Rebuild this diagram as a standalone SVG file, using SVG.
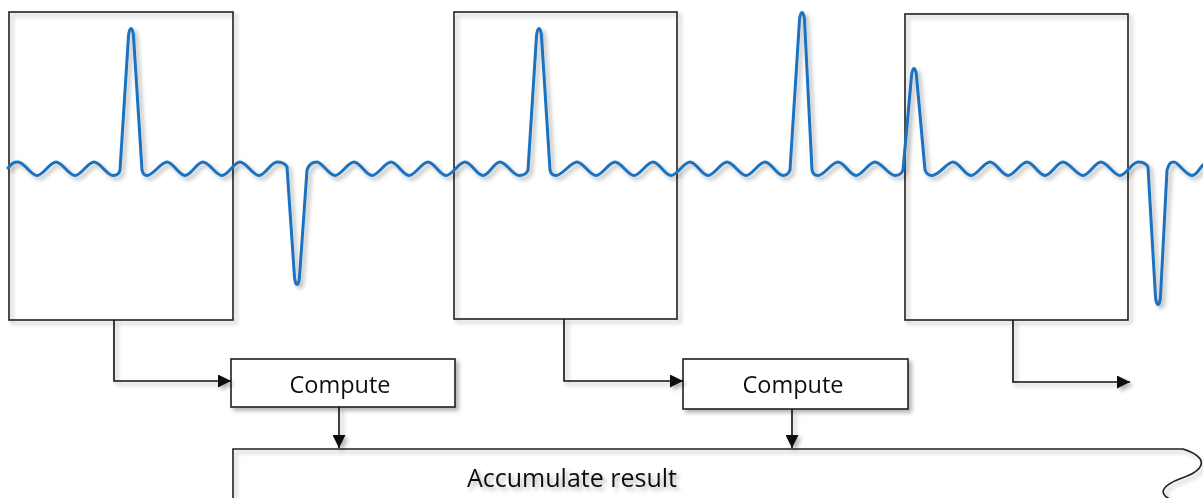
<svg xmlns="http://www.w3.org/2000/svg" width="1203" height="498" viewBox="0 0 1203 498">
<style>
.frame{fill:none;stroke:#1f1f1f;stroke-width:1.6}
.box{fill:#fff;stroke:#1f1f1f;stroke-width:1.6}
.conn{fill:none;stroke:#111;stroke-width:1.6}
.sig{fill:none;stroke:#1a72bf;stroke-width:3;stroke-linejoin:round;stroke-linecap:round}
.lbl{font-family:"Open Sans","Liberation Sans",sans-serif;fill:#111;font-weight:500}
</style>
<defs>
<filter id="sh" filterUnits="userSpaceOnUse" x="0" y="0" width="1203" height="498">
<feDropShadow dx="3" dy="3" stdDeviation="2" flood-color="#000" flood-opacity="0.3"/>
</filter>
<marker id="arr" viewBox="0 0 10 10" refX="10" refY="5" markerUnits="userSpaceOnUse" markerWidth="14" markerHeight="13" orient="auto">
<path d="M0,0 L10,5 L0,10 z" fill="#111"/>
</marker>
</defs>
<rect width="1203" height="498" fill="#fff"/>
<g id="windows" filter="url(#sh)">
<rect id="window1" class="frame" x="9" y="12" width="224" height="308"/>
<rect id="window2" class="frame" x="454" y="12" width="223" height="307"/>
<rect id="window3" class="frame" x="905" y="14" width="223" height="306"/>
</g>
<g id="signal" filter="url(#sh)">
<path class="sig" d="M8,168 C12,163 14,162 18,162 C24,162 31,175.5 37,175.5 S50,162 56,162 S69,175.5 75,175.5 S88,162 94,162 S107,175.5 113,175.5 Q119,175.5 120,170 L128.5,36 C129.5,26 132.5,26 133.5,36 L142,170 Q143,175.5 147,175.5 C153,175.5 161,162 167,162 S179,175.5 185,175.5 S197,162 203,162 S216,175.5 222,175.5 S234,162 240,162 S253,175.5 259,175.5 S271,162 277,162 C281,162 285,163 287,167 L294.5,277 C295.5,287 298.5,287 299.5,277 L307,170 C309,164 312,162 317,162 S329,175.5 335,175.5 S348,162 354,162 S366,175.5 372,175.5 S385,162 391,162 S403,175.5 409,175.5 S422,162 428,162 S440,175.5 446,175.5 S459,162 465,162 S477,175.5 483,175.5 S494,162 500,162 S513,175.5 519,175.5 Q526,175.5 528,170 L536.5,36 C537.5,26 540.5,26 541.5,36 L550,170 Q551,175.5 556,175.5 C562,175.5 571,162 577,162 S590,175.5 596,175.5 S609,162 615,162 S628,175.5 634,175.5 S647,162 653,162 S665,175.5 671,175.5 S684,162 690,162 S702,175.5 708,175.5 S721,162 727,162 S740,175.5 746,175.5 S759,162 765,162 S777,175.5 783,175.5 Q788,175.5 790,170 L799.5,20 C800.5,10 803.5,10 804.5,20 L812,170 Q813,175.5 818,175.5 C824,175.5 832,162 838,162 S850,175.5 856,175.5 S869,162 875,162 S889,175.5 895,175.5 Q901,175.5 903,170 L911.5,76 C912.5,66 915.5,66 916.5,76 L925,170 Q927,175.5 932,175.5 C939,175.5 947,162 953,162 S965,175.5 971,175.5 S984,162 990,162 S1002,175.5 1008,175.5 S1021,162 1027,162 S1039,175.5 1045,175.5 S1057,162 1063,162 S1077,175.5 1083,175.5 S1095,162 1101,162 S1114,175.5 1120,175.5 S1132,162 1138,162 C1142,162 1146,163 1148,167 L1155.5,297 C1156.5,307 1159.5,307 1160.5,297 L1167,170 C1169,164 1170,162 1174,162 S1186,175.5 1192,175.5 S1200,165 1206,163"/>
</g>
<g id="compute1" filter="url(#sh)">
<rect class="box" x="231" y="359" width="224" height="48"/>
<text class="lbl" x="340" y="393" font-size="23.5" text-anchor="middle">Compute</text>
</g>
<g id="compute2" filter="url(#sh)">
<rect class="box" x="683" y="359" width="225" height="50"/>
<text class="lbl" x="793" y="393" font-size="23.5" text-anchor="middle">Compute</text>
</g>
<g id="accumulate" filter="url(#sh)">
<path class="frame" d="M233,500 V449 H1183 C1210,458 1205,470 1182,478 C1160,486 1158,494 1172,500"/>
<text class="lbl" x="467" y="487" font-size="25">Accumulate result</text>
</g>
<g id="connectors" filter="url(#sh)">
<path class="conn" d="M114,320 V381 H231" marker-end="url(#arr)"/>
<path class="conn" d="M564,319 V381 H683" marker-end="url(#arr)"/>
<path class="conn" d="M1013,320 V382 H1130" marker-end="url(#arr)"/>
<path class="conn" d="M339,407 V448" marker-end="url(#arr)"/>
<path class="conn" d="M792,409 V448" marker-end="url(#arr)"/>
</g>
</svg>
